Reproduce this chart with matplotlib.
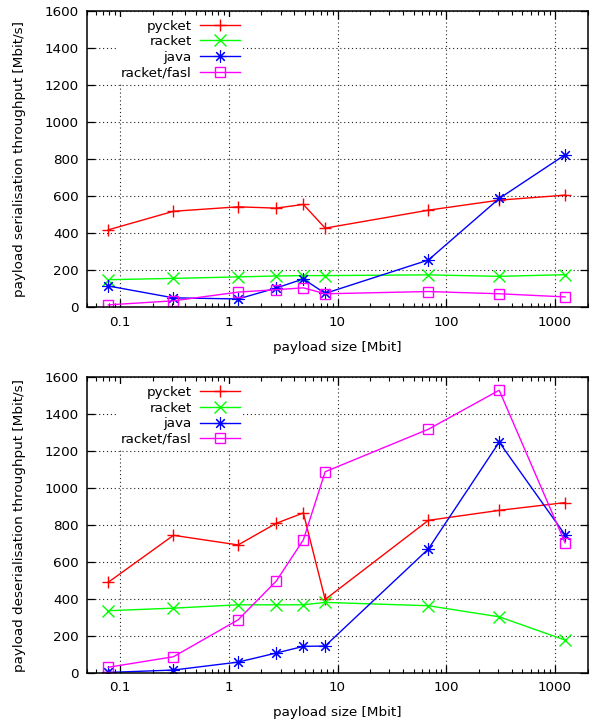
import numpy as np
import matplotlib
matplotlib.use("Agg")
import matplotlib.pyplot as plt
from matplotlib.ticker import FixedLocator, FixedFormatter, LogLocator, NullFormatter

plt.rcParams.update({
    "font.family": "DejaVu Sans", "font.size": 9.7,
    "xtick.direction": "in", "ytick.direction": "in",
    "xtick.top": True, "ytick.right": True,
})

# payload sizes (Mbit)
sizes = [0.078, 0.31, 1.22, 2.73, 4.85, 7.7, 68.5, 307, 1240]

# serialisation throughput (Mbit/s)
ser_pycket = [418, 518, 542, 535, 555, 427, 524, 578, 605]
ser_racket = [149, 156, 164, 169, 171, 171, 175, 167, 176]
ser_java = [115, 51, 45, 104, 153, 75, 255, 587, 823]
ser_fasl = [13, 35, 82, 95, 105, 73, 85, 73, 56]

# deserialisation throughput (Mbit/s)
de_pycket = [491, 745, 693, 810, 866, 398, 826, 880, 922]
de_racket = [337, 351, 369, 369, 369, 382, 364, 304, 178]
de_java = [3, 16, 59, 108, 144, 146, 671, 1249, 747]
de_fasl = [31, 88, 288, 497, 720, 1089, 1319, 1530, 704]

labels = ["pycket", "racket", "java", "racket/fasl"]
colors = ["#ff0000", "#00ff00", "#0000ff", "#ff00ff"]
markers = ["+", "x", (8, 2, 0), "s"]
msizes = [8, 8.5, 8.8, 7.5]
mews = [1.0, 1.0, 0.8, 1.0]

y_ticks = [0, 200, 400, 600, 800, 1000, 1200, 1400, 1600]
x_ticks = [0.1, 1, 10, 100, 1000]
x_ticklabels = ["0.1", "1", "10", "100", "1000"]

W, H = 591, 723
fig = plt.figure(figsize=(W / 100, H / 100), dpi=100)

L, R = 87.3, 587.7
panels = [
    (10.7, 307.3, [ser_pycket, ser_racket, ser_java, ser_fasl],
     "payload serialisation throughput [Mbit/s]"),
    (377.3, 673.0, [de_pycket, de_racket, de_java, de_fasl],
     "payload deserialisation throughput [Mbit/s]"),
]

for top, bot, series, ylab in panels:
    ax = fig.add_axes([L / W, 1 - bot / H, (R - L) / W, (bot - top) / H])
    for vals, lab, c, m, ms, mew in zip(series, labels, colors, markers, msizes, mews):
        ax.plot(sizes, vals, color=c, lw=1.0, marker=m, ms=ms, mew=mew,
                mfc="none", label=lab)
    ax.set_xscale("log")
    ax.set_xlim(0.05, 2000)
    ax.set_ylim(0, 1600)
    ax.xaxis.set_major_locator(FixedLocator(x_ticks))
    ax.xaxis.set_major_formatter(FixedFormatter(x_ticklabels))
    ax.xaxis.set_minor_locator(LogLocator(base=10, subs=np.arange(2, 10)))
    ax.xaxis.set_minor_formatter(NullFormatter())
    ax.set_yticks(y_ticks)
    ax.tick_params(which="major", length=5.5, width=0.9, colors="black")
    ax.tick_params(which="minor", length=3, width=0.8)
    ax.tick_params(axis="x", which="major", pad=6)
    ax.tick_params(axis="y", which="major", pad=6.3)
    for s in ax.spines.values():
        s.set_linewidth(1.1)
    ax.grid(True, which="major", color="#222222", lw=0.8, ls=(0, (1, 2.5)))
    ax.set_axisbelow(True)

    ax.set_ylabel(ylab)
    ax.yaxis.set_label_coords(-0.1345, 0.5)
    ax.yaxis.label.set_verticalalignment("center")
    ax.set_xlabel("payload size [Mbit]")
    ax.xaxis.set_label_coords(0.5, -0.135)
    ax.xaxis.label.set_verticalalignment("center")

    leg = ax.legend(loc="upper right", bbox_to_anchor=(0.3106, 0.979),
                    markerfirst=False, numpoints=1, handlelength=2.97,
                    handletextpad=0.6, labelspacing=0.19, borderpad=0.2,
                    borderaxespad=0, fancybox=False, framealpha=1,
                    edgecolor="none", facecolor="white")
    leg.set_zorder(5)

fig.savefig("out.png", dpi=100)
